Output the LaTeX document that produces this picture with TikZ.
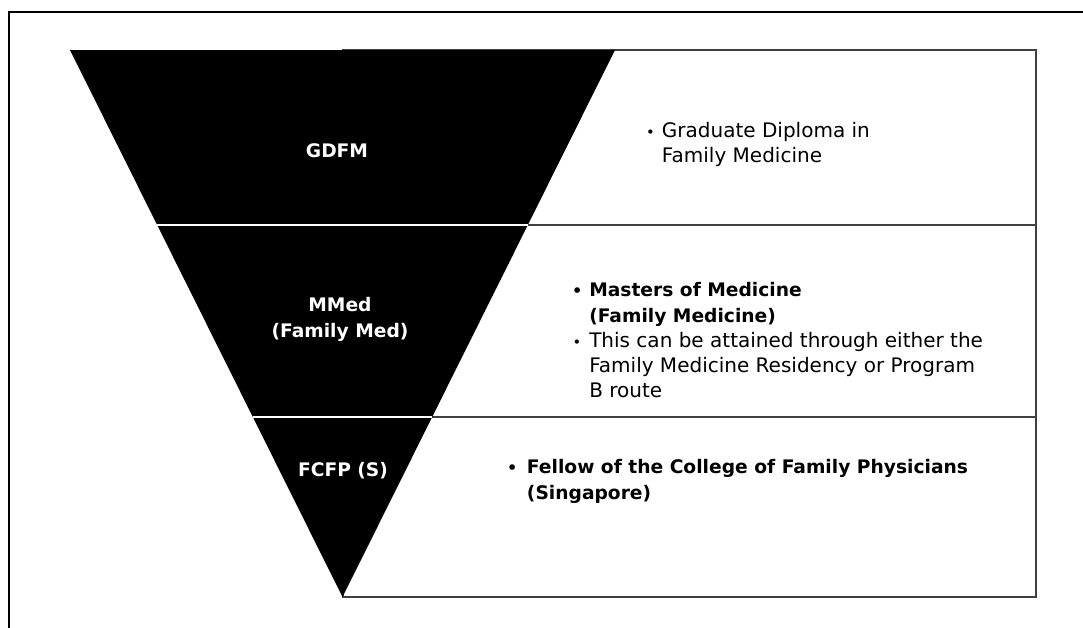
\documentclass[tikz,border=0pt]{standalone}
\usepackage{fontspec}
\setmainfont{DejaVu Sans}
\usetikzlibrary{calc,positioning}

\tikzset{
  band/.style={fill=black},
  gap/.style={draw=white, line width=0.8pt},
  tierbox/.style={draw=black!75, line width=0.8pt},
  tier/.style={text=white, inner sep=0pt, anchor=base, align=center,
    font=\fontsize{14}{19}\selectfont\bfseries},
  desc/.style={inner sep=0pt, anchor=base west, align=left,
    font=\fontsize{15}{18.75}\selectfont},
  descb/.style={desc, font=\fontsize{14}{19}\selectfont\bfseries},
  dot/.style={inner sep=0pt, anchor=base, font=\fontsize{11}{12}\selectfont},
  dotb/.style={dot, font=\fontsize{12}{12}\selectfont\bfseries},
}

\begin{document}
\begin{tikzpicture}[x=0.75pt, y=-0.75pt]
\useasboundingbox (0,0) rectangle (1083,628);

% outer frame
\draw[line width=1.2pt] (1083,12) -- (9,12) -- (9,628);

% boxes behind the funnel
\draw[tierbox] (343,50) rectangle (1036,225);
\draw[tierbox] (343,225) rectangle (1036,417);
\draw[tierbox] (343,417) rectangle (1036,597);

% funnel
\coordinate (tl) at (70,50);
\coordinate (tr) at (615,50);
\coordinate (tip) at (342.5,597);
\coordinate (l1) at ($(tl)!0.3199!(tip)$);
\coordinate (r1) at ($(tr)!0.3199!(tip)$);
\coordinate (l2) at ($(tl)!0.6709!(tip)$);
\coordinate (r2) at ($(tr)!0.6709!(tip)$);
\fill[band] (tl) -- (tr) -- (r1) -- (l1) -- cycle;
\fill[band] (l1) -- (r1) -- (r2) -- (l2) -- cycle;
\fill[band] (l2) -- (r2) -- (tip) -- cycle;
\draw[gap] (l1) -- (r1);
\draw[gap] (l2) -- (r2);

% tier names (base = last line)
\node[tier] (gdfm) at (337,157.7) {GDFM};
\node[tier] (mmed) at (340,337.3) {MMed\\(Family Med)};
\node[tier] (fcfp) at (343,476) {FCFP (S)};

% descriptions (base = last line)
\node[dot] (dot1) at (650.5,137.3) {•};
\node[desc] (gdfmtext) at (661.7,162.3) {Graduate Diploma in\\Family Medicine};
\node[dotb] (dot2) at (577.3,296.7) {•};
\node[descb] (mmedtext) at (589,322.3) {Masters of Medicine\\(Family Medicine)};
\node[dot] (dot3) at (577,347.3) {•};
\node[desc] (routetext) at (589,397.3) {This can be attained through either the\\Family Medicine Residency or Program\\B route};
\node[dotb] (dot4) at (512.3,473.3) {•};
\node[descb] (fcfptext) at (526.7,499.3) {Fellow of the College of Family Physicians\\(Singapore)};
\end{tikzpicture}
\end{document}
